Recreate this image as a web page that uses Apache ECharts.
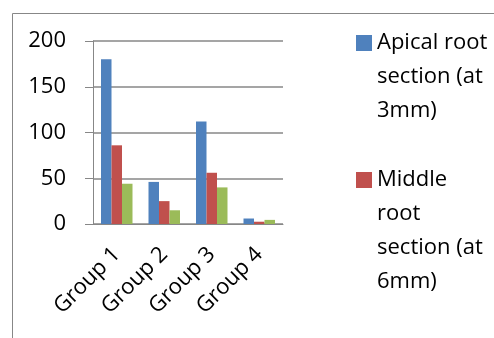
<!DOCTYPE html>
<html>
<head>
<meta charset="utf-8">
<script src="https://cdn.jsdelivr.net/npm/echarts@6/dist/echarts.min.js"></script>
<style>
  html, body { margin: 0; padding: 0; background: #fff; }
  #chart { width: 494px; height: 338px; }
</style>
</head>
<body>
<div id="chart"></div>
<script>
const groups = ['Group 1', 'Group 2', 'Group 3', 'Group 4'];
const apical = [180, 46, 112, 6];
const middle = [86, 25, 56, 2.5];
const coronal = [44, 15, 40, 4.5];
const yTicks = [0, 50, 100, 150, 200];

// legend labels wrap like the original (trailing blank line keeps both items equally tall)
const apicalName = 'Apical root\nsection (at\n3mm)\n';
const middleName = 'Middle\nroot\nsection (at\n6mm)';
const coronalName = 'Coronal root\nsection (at\n9mm)';

const chart = echarts.init(document.getElementById('chart'));
const font = '"Open Sans", sans-serif';
const gray = '#878787';

chart.setOption({
  animation: false,
  graphic: [{
    type: 'rect',
    left: 10, top: 11,
    shape: { width: 520, height: 360 },
    style: { fill: 'none', stroke: gray, lineWidth: 1 },
    silent: true
  }],
  legend: {
    data: [apicalName, middleName],
    orient: 'vertical',
    left: 356,
    top: 26,
    padding: 0,
    itemGap: 1,
    itemWidth: 16,
    itemHeight: 136,
    // square near the top, tiny corner dots fix the icon box to 16x136
    icon: 'path://M0,9h16v16h-16z M0,0h0.01v0.01h-0.01z M15.99,135.99h0.01v0.01h-0.01z',
    textStyle: { fontFamily: font, fontSize: 22, lineHeight: 34, color: '#000' },
    selectedMode: false
  },
  grid: { left: 93, right: 211, top: 41, bottom: 114 },
  xAxis: {
    type: 'category',
    data: groups,
    axisLine: { lineStyle: { color: gray, width: 1 } },
    axisTick: { length: 8, lineStyle: { color: gray } },
    axisLabel: { rotate: 45, margin: 27, fontFamily: font, fontSize: 22, color: '#000' }
  },
  yAxis: {
    type: 'value',
    min: yTicks[0],
    max: yTicks[yTicks.length - 1],
    interval: 50,
    axisLine: { show: true, lineStyle: { color: gray, width: 1 } },
    axisTick: { show: true, length: 8, lineStyle: { color: gray } },
    splitLine: { lineStyle: { color: gray, width: 1.5 } },
    axisLabel: { margin: 27, fontFamily: font, fontSize: 22, color: '#000' }
  },
  series: [
    { name: apicalName, type: 'bar', data: apical, barWidth: 10.5, barGap: '0%',
      itemStyle: { color: '#4F81BD' } },
    { name: middleName, type: 'bar', data: middle, barWidth: 10.5, barGap: '0%',
      itemStyle: { color: '#C0504D' } },
    { name: coronalName, type: 'bar', data: coronal, barWidth: 10.5, barGap: '0%',
      itemStyle: { color: '#9BBB59' } }
  ]
});
</script>
</body>
</html>
